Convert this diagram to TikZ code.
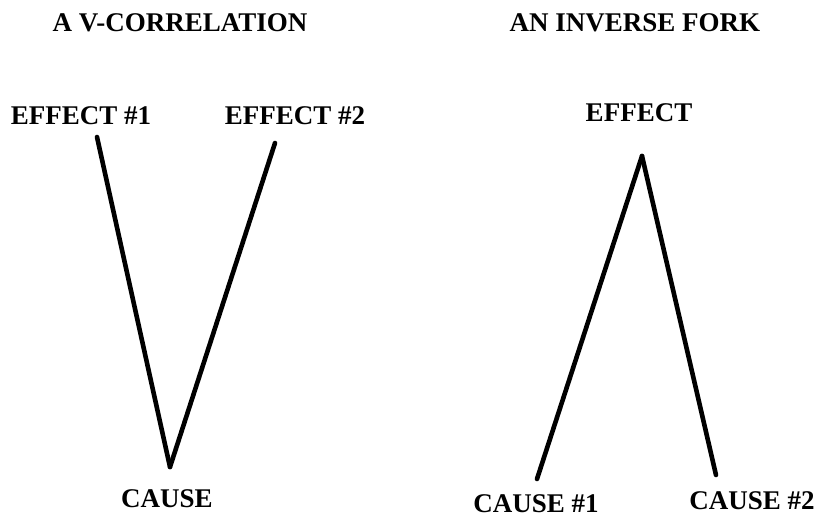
\documentclass[tikz,border=0pt]{standalone}
\usepackage{fontspec}
\setmainfont{Liberation Serif}
\usetikzlibrary{positioning}

\begin{document}
\begin{tikzpicture}[x=1pt,y=-1pt,
  every node/.style={font=\bfseries\fontsize{27}{30}\selectfont,inner sep=0pt,anchor=base},
  link/.style={line width=4.6pt,line cap=round}]
  \useasboundingbox (0,0) rectangle (815,518);
  % v-correlation
  \node (vtitle) at (180,32) {A V-CORRELATION};
  \node (eff1) at (81,125) {EFFECT \#1};
  \node (eff2) at (295,125) {EFFECT \#2};
  \node (cause) at (167,508) {CAUSE};
  \coordinate (v1) at (97,137);
  \coordinate (v2) at (275,143);
  \coordinate (vb) at (170,467);
  \draw[link] (v1)--(vb); \draw[link] (v2)--(vb);
  % inverse fork
  \node (ftitle) at (635,32) {AN INVERSE FORK};
  \node (effect) at (639,122) {EFFECT};
  \node (cause1) at (536,513) {CAUSE \#1};
  \node (cause2) at (752,510) {CAUSE \#2};
  \coordinate (ft) at (642,156);
  \coordinate (f1) at (537,479);
  \coordinate (f2) at (716,475);
  \draw[link] (ft)--(f1); \draw[link] (ft)--(f2);
\end{tikzpicture}
\end{document}
